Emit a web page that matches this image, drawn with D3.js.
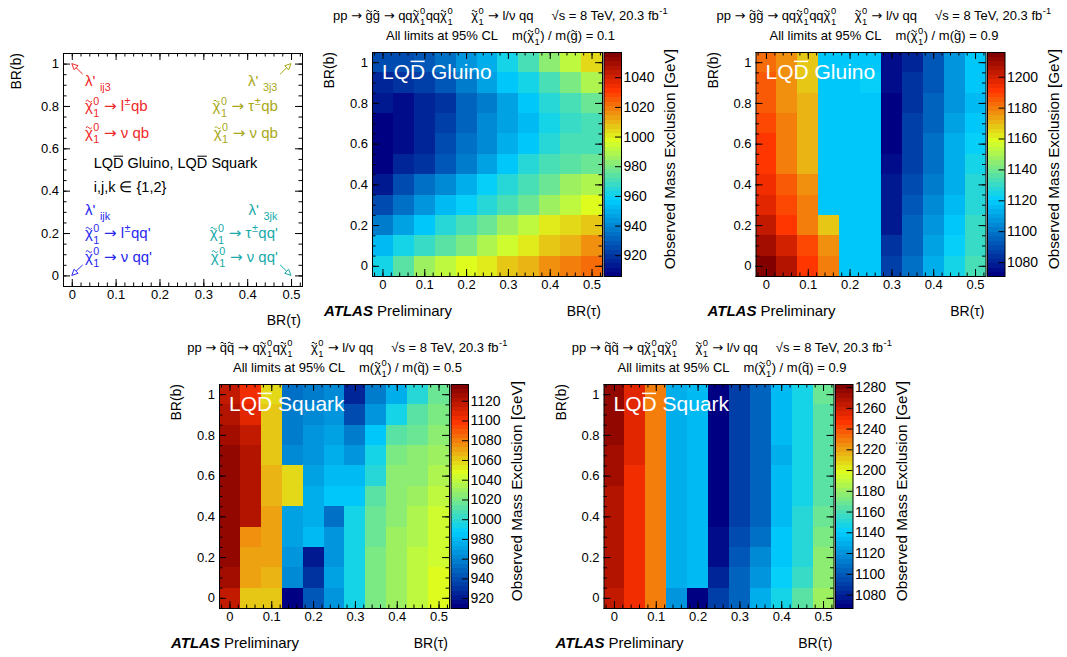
<!DOCTYPE html>
<html>
<head>
<meta charset="utf-8">
<script src="https://cdn.jsdelivr.net/npm/d3@7"></script>
<style>
  body { margin: 0; background: #fff; }
  text { font-family: "Liberation Sans", Arial, Helvetica, sans-serif; white-space: pre; }
</style>
</head>
<body>
<svg id="chart" width="1067" height="657"></svg>
<script>
// bin centres
const brTau = [0, 0.05, 0.1, 0.15, 0.2, 0.25, 0.3, 0.35, 0.4, 0.45, 0.5];
const brBRows = [1.0, 0.9, 0.8, 0.7, 0.6, 0.5, 0.4, 0.3, 0.2, 0.1, 0.0]; // grid rows, top to bottom

// tick labels
const xMajorTicks = [0, 0.1, 0.2, 0.3, 0.4, 0.5];
const yMajorTicks = [0, 0.2, 0.4, 0.6, 0.8, 1];
const zTicksGluino01 = [920, 940, 960, 980, 1000, 1020, 1040];
const zTicksGluino09 = [1080, 1100, 1120, 1140, 1160, 1180, 1200];
const zTicksSquark05 = [920, 940, 960, 980, 1000, 1020, 1040, 1060, 1080, 1100, 1120];
const zTicksSquark09 = [1080, 1100, 1120, 1140, 1160, 1180, 1200, 1220, 1240, 1260, 1280];

// colour axis ranges [GeV]
const zRangeGluino01 = [906, 1057];
const zRangeGluino09 = [1071, 1216];
const zRangeSquark05 = [910, 1137];
const zRangeSquark09 = [1067, 1283];

// observed mass exclusion [GeV], rows BR(b)=1 ... 0, columns BR(tau)=0 ... 0.5
const gluino01 = [
  [925, 925, 928, 935, 943, 950, 962, 970, 982, 993, 1003],
  [918, 920, 922, 928, 938, 946, 955, 962, 972, 980, 990],
  [913, 912, 918, 920, 932, 938, 948, 955, 965, 970, 977],
  [908, 911, 918, 922, 932, 940, 948, 954, 962, 968, 972],
  [907, 911, 918, 926, 934, 942, 950, 956, 964, 970, 972],
  [908, 917, 920, 930, 938, 946, 956, 964, 970, 975, 978],
  [913, 925, 936, 942, 950, 958, 964, 972, 978, 985, 988],
  [925, 934, 945, 954, 958, 964, 972, 978, 985, 992, 998],
  [938, 948, 956, 964, 972, 978, 985, 992, 1000, 1004, 1006],
  [954, 961, 967, 974, 980, 988, 995, 1002, 1008, 1011, 1015],
  [963, 974, 985, 992, 999, 1002, 1006, 1011, 1016, 1020, 1023]
];
const gluino09 = [
  [1183, 1177, 1168, 1119, 1119, 1119, 1074, 1082, 1092, 1107, 1119],
  [1185, 1177, 1168, 1118, 1118, 1121, 1074, 1083, 1092, 1107, 1118],
  [1186, 1177, 1170, 1118, 1118, 1119, 1073, 1084, 1095, 1108, 1117],
  [1188, 1179, 1170, 1118, 1120, 1120, 1073, 1086, 1097, 1110, 1119],
  [1190, 1180, 1170, 1118, 1120, 1120, 1073, 1086, 1099, 1112, 1122],
  [1191, 1181, 1172, 1118, 1120, 1120, 1075, 1088, 1099, 1112, 1124],
  [1194, 1185, 1177, 1119, 1120, 1120, 1077, 1090, 1101, 1114, 1127],
  [1197, 1189, 1179, 1118, 1120, 1120, 1077, 1092, 1104, 1117, 1128],
  [1203, 1192, 1181, 1169, 1119, 1120, 1078, 1095, 1108, 1120, 1131],
  [1208, 1199, 1188, 1176, 1119, 1120, 1083, 1097, 1110, 1122, 1131],
  [1214, 1206, 1191, 1179, 1119, 1120, 1086, 1099, 1112, 1124, 1134]
];
const squark05 = [
  [1115, 1104, 1056, 953, 958, 962, 925, 957, 978, 997, 1015],
  [1122, 1108, 1060, 957, 962, 965, 940, 967, 996, 1010, 1020],
  [1126, 1117, 1062, 957, 965, 970, 957, 986, 1010, 1015, 1024],
  [1130, 1122, 1064, 962, 967, 976, 967, 996, 1020, 1024, 1032],
  [1130, 1122, 1066, 1058, 972, 982, 979, 1000, 1024, 1028, 1036],
  [1130, 1123, 1068, 1058, 976, 986, 986, 1010, 1028, 1032, 1040],
  [1130, 1123, 1069, 972, 976, 952, 992, 1015, 1028, 1036, 1045],
  [1130, 1076, 1069, 972, 980, 965, 996, 1015, 1032, 1036, 1045],
  [1128, 1071, 1069, 967, 922, 967, 996, 1020, 1032, 1040, 1046],
  [1126, 1073, 1068, 962, 932, 970, 996, 1020, 1032, 1040, 1048],
  [1117, 1064, 1064, 912, 945, 965, 992, 1020, 1032, 1040, 1048]
];
const squark09 = [
  [1276, 1255, 1230, 1131, 1134, 1070, 1092, 1104, 1134, 1146, 1168],
  [1276, 1255, 1230, 1131, 1134, 1069, 1092, 1104, 1134, 1146, 1165],
  [1276, 1253, 1230, 1131, 1134, 1068, 1090, 1104, 1133, 1146, 1165],
  [1272, 1253, 1231, 1131, 1134, 1068, 1090, 1104, 1131, 1146, 1165],
  [1272, 1252, 1231, 1131, 1134, 1068, 1090, 1104, 1134, 1146, 1165],
  [1268, 1251, 1231, 1131, 1134, 1069, 1090, 1104, 1134, 1147, 1165],
  [1266, 1251, 1231, 1131, 1134, 1070, 1092, 1104, 1136, 1150, 1168],
  [1266, 1251, 1231, 1131, 1134, 1072, 1097, 1110, 1140, 1150, 1172],
  [1266, 1251, 1231, 1131, 1134, 1075, 1100, 1118, 1140, 1152, 1175],
  [1266, 1250, 1231, 1131, 1134, 1080, 1102, 1122, 1142, 1156, 1178],
  [1263, 1252, 1231, 1120, 1068, 1090, 1103, 1131, 1145, 1165, 1182]
];

// ROOT-style 5 stop palette
const paletteStops = [0, 0.34, 0.61, 0.84, 1];
const paletteColors = ["#000082", "#00cfff", "#deff1f", "#ff3300", "#820000"];
const palette = d3.scaleLinear().domain(paletteStops).range(paletteColors).interpolate(d3.interpolateRgb);
const NCONT = 50;

const svg = d3.select("#chart");
const PW = 230, PH = 224, CBW = 17.5;

// small latex-like text: strings, {sup,sub}, {tilde}, {bar}
function rich(parent, x, y, segs, o) {
  const size = o.size, fill = o.fill || "#000";
  const g = parent.append("g");
  let cx = 0;
  const put = (str, dx, dy, s, fam) => {
    const t = g.append("text")
      .attr("x", cx + dx).attr("y", dy).attr("font-size", s).attr("fill", fill).text(str);
    if (fam) t.style("font-family", fam);
    return t.node().getComputedTextLength();
  };
  segs.forEach(s => {
    if (typeof s === "string") {
      // arrows from DejaVu, they are wider like ROOT's
      s.split(/(→)/).forEach(part => {
        if (!part) return;
        if (part === "→") cx += put(part, 0, 0, size, "DejaVu Sans");
        else cx += put(part, 0, 0, size);
      });
      return;
    }
    if (s.tilde || s.bar) {
      const w = put(s.tilde || s.bar, 0, 0, size);
      if (s.tilde) {
        const ty = -0.56 * size - 2.2, a = 0.14 * size;
        g.append("path")
          .attr("d", `M${cx + w * 0.12},${ty + 0.6} q${w * 0.19},${-a} ${w * 0.38},0 t${w * 0.38},0`)
          .attr("fill", "none").attr("stroke", fill).attr("stroke-width", size > 16 ? 1.4 : 1);
      } else {
        const by = -0.72 * size - (size > 16 ? 2.5 : 1.8);
        g.append("line").attr("x1", cx + 0.5).attr("x2", cx + w - 0.5).attr("y1", by).attr("y2", by)
          .attr("stroke", fill).attr("stroke-width", size > 16 ? 1.5 : 1);
      }
      cx += w;
      return;
    }
    const ss = size * 0.72;
    let w = 0;
    if (s.sup) w = Math.max(w, put(s.sup, 0.5, -0.45 * size, ss));
    if (s.sub) w = Math.max(w, put(s.sub, 0.5, 0.36 * size, ss));
    cx += w + 1;
  });
  const shift = o.anchor === "middle" ? -cx / 2 : o.anchor === "end" ? -cx : 0;
  g.attr("transform", `translate(${x + shift},${y})`);
  return g;
}

const fmt = d => String(+d.toFixed(2));

function drawAxes(g, x, y) {
  const [x0, x1] = x.range(), [y1, y0] = y.range();
  const xd = x.domain(), yd = y.domain();
  const xMinor = d3.range(-0.02, 0.5201, 0.02).filter(v => v >= xd[0] - 1e-9 && v <= xd[1] + 1e-9);
  const yMinor = d3.range(-0.05, 1.0501, 0.05).filter(v => v >= yd[0] - 1e-9 && v <= yd[1] + 1e-9);
  const style = s => s.call(a => a.select(".domain").remove())
    .attr("font-size", null).attr("font-family", null).attr("color", "#000")
    .call(a => a.selectAll("text").attr("font-size", 13));
  g.append("g").attr("transform", `translate(0,${y1})`)
    .call(d3.axisBottom(x).tickValues(xMajorTicks).tickSize(-7).tickPadding(4).tickFormat(fmt)).call(style);
  g.append("g").attr("transform", `translate(0,${y1})`)
    .call(d3.axisBottom(x).tickValues(xMinor).tickSize(-3.5).tickFormat("")).call(style);
  g.append("g").attr("transform", `translate(0,${y0})`)
    .call(d3.axisTop(x).tickValues(xMajorTicks).tickSize(-7).tickFormat("")).call(style);
  g.append("g").attr("transform", `translate(0,${y0})`)
    .call(d3.axisTop(x).tickValues(xMinor).tickSize(-3.5).tickFormat("")).call(style);
  g.append("g").attr("transform", `translate(${x0},0)`)
    .call(d3.axisLeft(y).tickValues(yMajorTicks).tickSize(-7).tickPadding(4).tickFormat(fmt)).call(style);
  g.append("g").attr("transform", `translate(${x0},0)`)
    .call(d3.axisLeft(y).tickValues(yMinor).tickSize(-3.5).tickFormat("")).call(style);
  g.append("g").attr("transform", `translate(${x1},0)`)
    .call(d3.axisRight(y).tickValues(yMajorTicks).tickSize(-7).tickFormat("")).call(style);
  g.append("g").attr("transform", `translate(${x1},0)`)
    .call(d3.axisRight(y).tickValues(yMinor).tickSize(-3.5).tickFormat("")).call(style);
  g.append("rect").attr("x", x0 + 0.5).attr("y", y0 + 0.5).attr("width", x1 - x0).attr("height", y1 - y0)
    .attr("fill", "none").attr("stroke", "#000").attr("stroke-width", 1);
}

const chi = [{ tilde: "χ" }, { sup: "0", sub: "1" }];

function heatPanel(p) {
  const g = svg.append("g");
  const x = d3.scaleLinear().domain([-0.025, 0.525]).range([p.left, p.left + PW]);
  const y = d3.scaleLinear().domain([-0.05, 1.05]).range([p.top + PH, p.top]);
  const zf = d3.scaleLinear().domain(p.zRange).range([0, 1]).clamp(true);
  const zColor = v => palette(Math.min(NCONT - 1, Math.floor(zf(v) * NCONT)) / (NCONT - 1));

  const cells = [];
  p.grid.forEach((row, i) => row.forEach((v, j) => cells.push({ bx: brTau[j], by: brBRows[i], v })));
  g.append("g").attr("shape-rendering", "crispEdges").selectAll("rect").data(cells).join("rect")
    .attr("x", d => x(d.bx - 0.025)).attr("y", d => y(d.by + 0.05))
    .attr("width", d => x(d.bx + 0.025) - x(d.bx - 0.025))
    .attr("height", d => y(d.by - 0.05) - y(d.by + 0.05))
    .attr("fill", d => zColor(d.v));

  drawAxes(g, x, y);

  // colour bar
  const cbx = p.left + PW + 1.5;
  const zy = d3.scaleLinear().domain(p.zRange).range([p.top + PH, p.top]);
  const dz = (p.zRange[1] - p.zRange[0]) / NCONT;
  g.append("g").attr("shape-rendering", "crispEdges").selectAll("rect").data(d3.range(NCONT)).join("rect")
    .attr("x", cbx).attr("width", CBW)
    .attr("y", i => zy(p.zRange[0] + (i + 1) * dz)).attr("height", i => zy(p.zRange[0] + i * dz) - zy(p.zRange[0] + (i + 1) * dz) + 0.5)
    .attr("fill", i => palette(i / (NCONT - 1)));
  g.append("rect").attr("x", cbx + 0.5).attr("y", p.top + 0.5).attr("width", CBW).attr("height", PH)
    .attr("fill", "none").attr("stroke", "#000");
  g.append("g").attr("transform", `translate(${cbx + CBW},0)`)
    .call(d3.axisRight(zy).tickValues(p.zTicks).tickSize(-6).tickPadding(2.5).tickFormat(d3.format("d")))
    .call(a => a.select(".domain").remove())
    .attr("font-size", null).attr("font-family", null).attr("color", "#000")
    .call(a => a.selectAll("text").attr("font-size", 14));

  g.append("text").attr("transform", `translate(${cbx + CBW + 54},${p.top - 3}) rotate(-90)`)
    .attr("text-anchor", "end").attr("font-size", 15.3).text("Observed Mass Exclusion [GeV]");
  g.append("text").attr("transform", `translate(${p.left - 38},${p.top}) rotate(-90)`)
    .attr("text-anchor", "end").attr("font-size", 14).text("BR(b)");
  g.append("text").attr("x", p.left + PW - 1).attr("y", p.top + PH + 40)
    .attr("text-anchor", "end").attr("font-size", 14).text("BR(τ)");
  const atl = g.append("text").attr("x", p.left - 48).attr("y", p.top + PH + 40).attr("font-size", 15);
  atl.append("tspan").attr("font-weight", "bold").attr("font-style", "italic").text("ATLAS");
  atl.append("tspan").text(" Preliminary");

  rich(g, p.left + 10, p.top + 27, ["LQ", { bar: "D" }, p.label], { size: 21, fill: "#fff" });

  const cx = p.left + PW / 2 + 13.5;
  rich(g, cx, p.top - 32, p.title, { size: 13, anchor: "middle" });
  rich(g, cx, p.top - 12, ["All limits at 95% CL    m(", ...chi, ") / m(", { tilde: p.sp }, ") = " + p.ratio],
    { size: 13, anchor: "middle" });
}

const tail = ["     ", ...chi, " → l/ν qq     √s = 8 TeV, 20.3 fb", { sup: "-1" }];
const titleGluino = ["pp → ", { tilde: "g" }, { tilde: "g" }, " → qq", ...chi, "qq", ...chi, ...tail];
const titleSquark = ["pp → ", { tilde: "q" }, { tilde: "q" }, " → q", ...chi, "q", ...chi, ...tail];

heatPanel({ left: 372, top: 52, grid: gluino01, zRange: zRangeGluino01, zTicks: zTicksGluino01,
  label: " Gluino", title: titleGluino, sp: "g", ratio: "0.1" });
heatPanel({ left: 755.5, top: 52, grid: gluino09, zRange: zRangeGluino09, zTicks: zTicksGluino09,
  label: " Gluino", title: titleGluino, sp: "g", ratio: "0.9" });
heatPanel({ left: 219, top: 384, grid: squark05, zRange: zRangeSquark05, zTicks: zTicksSquark05,
  label: " Squark", title: titleSquark, sp: "q", ratio: "0.5" });
heatPanel({ left: 603.5, top: 384, grid: squark09, zRange: zRangeSquark09, zTicks: zTicksSquark09,
  label: " Squark", title: titleSquark, sp: "q", ratio: "0.9" });

// key panel
(function () {
  const g = svg.append("g");
  const x = d3.scaleLinear().domain([-0.02, 0.525]).range([63, 302]);
  const y = d3.scaleLinear().domain([-0.05, 1.05]).range([286, 53]);
  drawAxes(g, x, y);
  g.append("text").attr("transform", `translate(21,53) rotate(-90)`)
    .attr("text-anchor", "end").attr("font-size", 14).text("BR(b)");
  g.append("text").attr("x", 301).attr("y", 325).attr("text-anchor", "end").attr("font-size", 14).text("BR(τ)");

  const red = "#f02828", olive = "#a8a818", blue = "#2828f0", teal = "#18aaaa";
  const S = 15;
  rich(g, x(0.03), y(0.895), ["λ' ", { sub: "ij3" }], { size: S, fill: red });
  rich(g, x(0.03), y(0.775), [...chi, " → l", { sup: "±" }, "qb"], { size: S, fill: red });
  rich(g, x(0.03), y(0.65), [...chi, " → ν qb"], { size: S, fill: red });
  rich(g, x(0.47), y(0.895), ["λ' ", { sub: "3j3" }], { size: S, fill: olive, anchor: "end" });
  rich(g, x(0.47), y(0.775), [...chi, " → τ", { sup: "±" }, "qb"], { size: S, fill: olive, anchor: "end" });
  rich(g, x(0.47), y(0.65), [...chi, " → ν qb"], { size: S, fill: olive, anchor: "end" });
  rich(g, x(0.05), y(0.505), ["LQ", { bar: "D" }, " Gluino, LQ", { bar: "D" }, " Squark"], { size: 14.5 });
  rich(g, x(0.05), y(0.395), ["i,j,k ∈ {1,2}"], { size: 14.5 });
  rich(g, x(0.03), y(0.285), ["λ' ", { sub: "ijk" }], { size: S, fill: blue });
  rich(g, x(0.03), y(0.175), [...chi, " → l", { sup: "±" }, "qq'"], { size: S, fill: blue });
  rich(g, x(0.03), y(0.065), [...chi, " → ν qq'"], { size: S, fill: blue });
  rich(g, x(0.47), y(0.285), ["λ' ", { sub: "3jk" }], { size: S, fill: teal, anchor: "end" });
  rich(g, x(0.47), y(0.175), [...chi, " → τ", { sup: "±" }, "qq'"], { size: S, fill: teal, anchor: "end" });
  rich(g, x(0.47), y(0.065), [...chi, " → ν qq'"], { size: S, fill: teal, anchor: "end" });

  const arrows = [
    { from: [0.025, 0.95], to: [0, 1], c: red },
    { from: [0.475, 0.95], to: [0.5, 1], c: olive },
    { from: [0.025, 0.05], to: [0, 0], c: blue },
    { from: [0.475, 0.05], to: [0.5, 0], c: teal }
  ];
  arrows.forEach(a => {
    const x1 = x(a.from[0]), y1 = y(a.from[1]), x2 = x(a.to[0]), y2 = y(a.to[1]);
    const ang = Math.atan2(y2 - y1, x2 - x1), L = 6, W = 2.8;
    const bx = x2 - L * Math.cos(ang), by = y2 - L * Math.sin(ang);
    const px = -Math.sin(ang) * W, py = Math.cos(ang) * W;
    g.append("line").attr("x1", x1).attr("y1", y1).attr("x2", bx).attr("y2", by).attr("stroke", a.c);
    g.append("path").attr("d", `M${x2},${y2}L${bx + px},${by + py}L${bx - px},${by - py}Z`)
      .attr("fill", "#fff").attr("stroke", a.c);
  });
})();
</script>
</body>
</html>
